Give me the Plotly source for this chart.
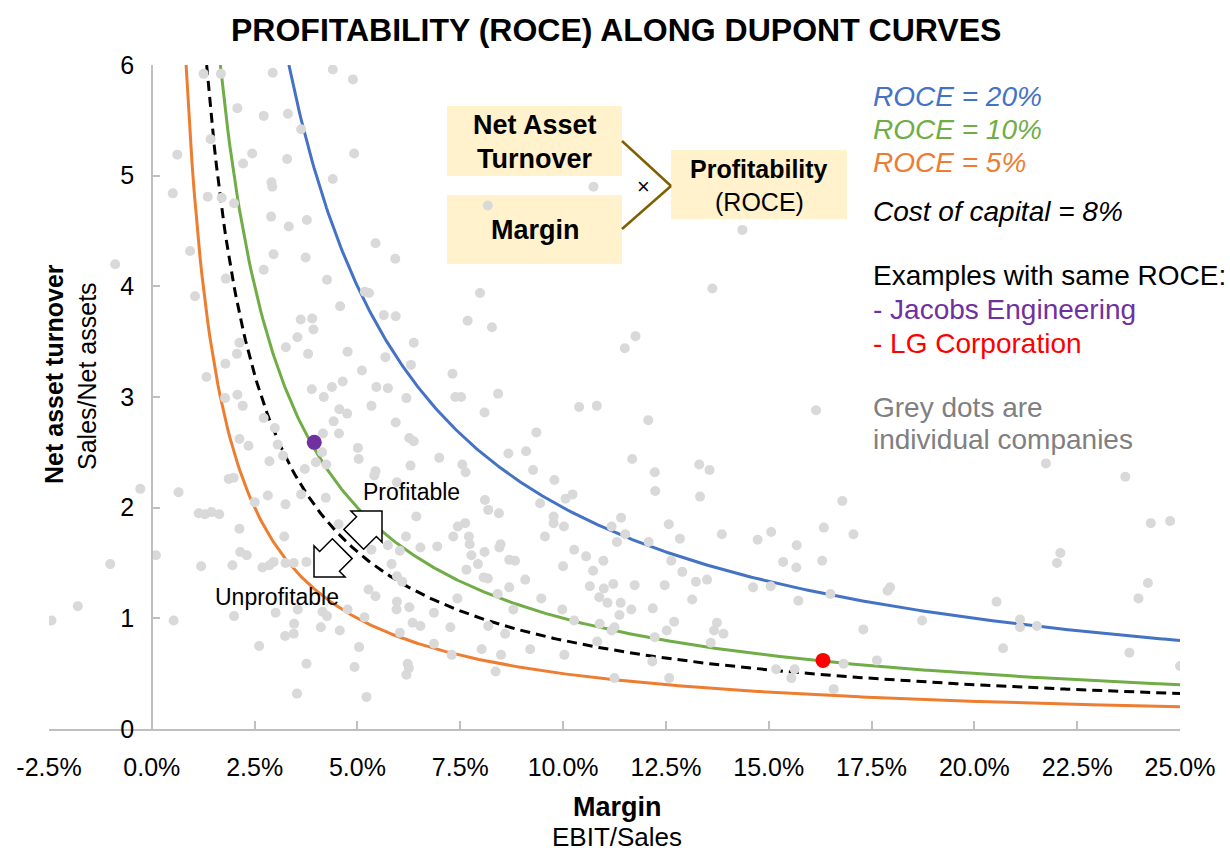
import numpy as np
import plotly.graph_objects as go

# ---------------- data ----------------
# grey dots: individual companies (margin in %, net asset turnover)
company_margin = [
    1.26, 1.68, 2.94, 4.40, 4.89, 2.08, 2.72, 3.31, 3.63, 0.62, 2.44, 2.22, 3.29, 4.92, 4.40, 2.91, 2.93, 0.51, 1.36, 1.70,
    2.00, 1.43, 2.90, 3.33, 3.77, 0.93, 2.96, 3.74, 5.44, 5.92, -0.89, 1.80, 2.72, 4.26, 5.18, 5.28, 1.05, 4.58, 5.64, 5.93,
    3.62, 3.90, 3.93, 3.54, 3.26, 2.13, 2.07, 3.80, 4.76, 5.68, 6.37, 6.30, 1.79, 5.11, 1.33, 3.89, 4.38, 4.64, 5.46, 5.74,
    2.08, 1.78, 4.18, 6.19,
    2.21, 4.56, 4.75, 5.34, 4.42, 5.93, 2.72, 2.99, 4.55, 2.13, 2.35, 3.06, 4.16, 4.14, 5.01, 6.26, 5.03, 3.19, 2.86, 3.99,
    4.24, 3.72, 5.44, 5.41, 1.87, 1.99, 6.29, -0.28, 0.65, 2.50, 2.82, 3.25, 3.63, 4.23, 5.96, 6.43, 1.14, 1.29, 1.45, 1.64,
    2.13, 4.54, 3.22, 6.18, 5.74, 6.03, 5.34, 2.15, 2.31, 0.10, -1.01, 1.20, 1.96, 2.69, 2.86, 2.96, 3.25, 3.45, 3.76, 5.83,
    5.96, 6.09, 5.27, 5.44, 5.96, 5.95, 6.26, -1.80, -2.44, 0.53, 2.00, 3.01, 3.55, 4.15, 4.26, 4.76, 5.17, 3.46, 3.45, 3.24,
    4.11, 4.57, 6.03, 6.34, 2.61, 5.04, 3.76, 4.93, 6.22, 6.19, 6.25, 3.53, 5.22,
    10.74, 8.17, 14.36, 7.98, 13.63, 7.68, 8.27, 11.76, 11.50, 7.31,
    7.38, 7.52, 8.42, 8.09, 10.39, 10.82, 12.07, 16.15, 9.35, 6.37, 8.67, 9.10, 6.99, 7.55, 7.63, 9.27, 11.68, 12.23, 13.31, 13.56,
    12.24, 13.33, 16.79, 9.79, 10.06, 10.23, 9.44, 8.10, 8.18, 8.44, 9.77, 9.77, 10.02, 7.62, 7.44, 7.33, 7.71, 7.73, 6.53, 6.94,
    8.48, 8.45, 9.56, 11.18, 11.41, 11.51, 11.31, 12.08, 12.57, 12.84, 13.86, 14.73, 15.06, 15.68, 16.34, 15.35, 15.67, 16.30, 8.09, 7.77,
    7.93, 7.65, 8.69, 8.83, 8.07, 8.17, 9.08, 10.00, 10.27, 10.56, 10.98, 10.73, 10.65, 10.99, 11.22, 10.88, 11.08, 11.40, 11.74, 12.47,
    12.63, 12.90, 13.23, 13.50, 13.14, 14.62, 15.05, 15.72, 16.50, 11.66, 12.18, 11.37, 11.25, 11.18, 10.89, 10.27, 9.98, 9.47, 8.41, 8.69,
    8.79, 7.43, 6.86, 6.53, 7.26, 8.18, 8.59, 6.86, 8.02, 7.29, 8.49, 9.20, 10.03, 10.83, 12.23, 12.52, 12.70, 13.59, 13.74, 13.67,
    13.90, 12.17, 15.18, 15.63, 15.55, 11.25, 12.58, 16.82, 16.58, 8.36,
    17.06, 17.95, 17.89, 17.30, 18.73, 21.74, 23.67, 24.29, 24.76, 22.09, 22.01, 24.22, 23.99, 20.54, 21.11, 21.11, 21.52, 20.70, 23.77, 25.00,
    17.63,
]
company_turnover = [
    5.92, 5.92, 5.93, 5.96, 5.87, 5.61, 5.54, 5.56, 5.42, 5.19, 5.20, 5.11, 5.15, 5.20, 4.97, 4.94, 4.90, 4.84, 4.81, 4.80,
    4.75, 5.33, 4.63, 4.54, 4.60, 4.32, 4.29, 4.26, 4.39, 4.25, 4.20, 4.07, 4.15, 4.06, 3.95, 3.94, 3.91, 3.82, 3.74, 3.73,
    3.70, 3.71, 3.61, 3.54, 3.45, 3.49, 3.39, 3.39, 3.41, 3.36, 3.49, 3.29, 3.30, 3.24, 3.18, 3.07, 3.09, 3.14, 3.09, 3.08,
    3.02, 2.99, 3.00, 2.99,
    2.92, 2.89, 2.85, 2.92, 2.78, 2.77, 2.81, 2.72, 2.67, 2.62, 2.56, 2.57, 2.67, 2.50, 2.54, 2.63, 2.44, 2.47, 2.42, 2.41,
    2.39, 2.35, 2.33, 2.29, 2.26, 2.27, 2.38, 2.17, 2.14, 2.05, 2.11, 2.03, 2.12, 2.09, 2.23, 1.92, 1.95, 1.94, 1.96, 1.94,
    1.81, 1.85, 1.74, 1.74, 1.66, 1.61, 1.62, 1.60, 1.57, 1.57, 1.49, 1.47, 1.48, 1.46, 1.48, 1.51, 1.50, 1.50, 1.51, 1.49,
    1.38, 1.33, 1.26, 1.20, 1.15, 1.08, 1.10, 1.11, 0.98, 0.98, 1.02, 1.05, 1.08, 1.06, 1.02, 1.08, 1.01, 0.95, 0.86, 0.84,
    0.92, 0.89, 0.87, 0.96, 0.75, 0.74, 0.59, 0.56, 0.59, 0.49, 0.55, 0.32, 0.29,
    4.90, 4.73, 4.51, 3.94, 3.98, 3.69, 3.63, 3.55, 3.44, 3.21,
    3.00, 3.00, 3.03, 2.86, 2.91, 2.92, 2.79, 2.88, 2.68, 2.60, 2.49, 2.51, 2.45, 2.39, 2.32, 2.34, 2.44, 2.32, 2.39, 2.34,
    2.15, 2.10, 2.06, 2.25, 2.08, 2.12, 2.04, 2.07, 1.98, 1.95, 1.92, 1.86, 1.83, 1.86, 1.83, 1.74, 1.74, 1.67, 1.64, 1.65,
    1.67, 1.64, 1.74, 1.83, 1.91, 1.76, 1.69, 1.69, 1.85, 1.72, 1.76, 1.71, 1.78, 1.66, 1.82, 1.51, 1.46, 1.52, 1.60, 1.57,
    1.49, 1.44, 1.53, 1.52, 1.37, 1.36, 1.35, 1.47, 1.62, 1.56, 1.52, 1.43, 1.29, 1.27, 1.31, 1.19, 1.14, 1.14, 1.30, 1.30,
    1.52, 1.42, 1.33, 1.35, 1.17, 1.28, 1.29, 1.16, 1.22, 1.08, 1.09, 1.03, 0.92, 0.89, 0.95, 0.98, 1.08, 1.18, 1.22, 1.28,
    1.08, 1.18, 1.05, 0.93, 0.92, 0.93, 0.86, 0.77, 0.72, 0.67, 0.67, 0.72, 0.67, 0.79, 0.83, 0.89, 0.97, 0.78, 0.96, 0.89,
    0.86, 0.61, 0.54, 0.54, 0.46, 0.46, 0.46, 0.59, 0.36, 0.52,
    1.76, 1.28, 1.25, 0.90, 0.98, 2.40, 2.28, 1.86, 1.88, 1.59, 1.50, 1.32, 1.18, 1.15, 0.99, 0.92, 0.93, 0.73, 0.69, 0.57,
    0.62,
]

# ROCE iso-curves (ROCE = margin x turnover)
roce_levels = [20, 10, 5]
roce_colors = ["#4472C4", "#70AD47", "#ED7D31"]
cost_of_capital = 8

# highlighted examples
example_names = ["Jacobs Engineering", "LG Corporation"]
example_margin = [3.95, 16.32]
example_turnover = [2.59, 0.62]
example_colors = ["#7030A0", "#FF0000"]

x_tick_vals = [-2.5, 0.0, 2.5, 5.0, 7.5, 10.0, 12.5, 15.0, 17.5, 20.0, 22.5, 25.0]
x_tick_text = ["-2.5%", "0.0%", "2.5%", "5.0%", "7.5%", "10.0%", "12.5%", "15.0%", "17.5%", "20.0%", "22.5%", "25.0%"]
y_tick_vals = [0, 1, 2, 3, 4, 5, 6]
X_MIN, X_MAX, Y_MAX = -2.5, 25.0, 6.0

# ---------------- layout geometry ----------------
W, H = 1230, 852
ML, MR, MT, MB = 49, 50, 65, 123
PW, PH = W - ML - MR, H - MT - MB
FONT = "Liberation Sans, Arial, sans-serif"


def px_x(px):
    return (px - ML) / PW


def px_y(py):
    return (H - MB - py) / PH


def curve(level):
    x = np.linspace(level / Y_MAX, X_MAX, 500)
    return x, level / x


fig = go.Figure()

# ROCE curves and the dashed cost-of-capital curve
curve_specs = [(roce_levels[2], roce_colors[2], "solid"),
               (cost_of_capital, "black", "10px,6px"),
               (roce_levels[1], roce_colors[1], "solid"),
               (roce_levels[0], roce_colors[0], "solid")]
for lvl, col, dash in curve_specs:
    cx, cy = curve(lvl)
    fig.add_trace(go.Scatter(x=cx, y=cy, mode="lines", line=dict(color=col, width=3, dash=dash),
                             hoverinfo="skip", showlegend=False))

# grey dots
fig.add_trace(go.Scatter(x=company_margin, y=company_turnover, mode="markers",
                         marker=dict(color="#D9D9D9", size=10), showlegend=False, hoverinfo="x+y"))

# examples
fig.add_trace(go.Scatter(x=example_margin, y=example_turnover, mode="markers", text=example_names,
                         marker=dict(color=example_colors, size=15), showlegend=False))

shapes = []
annotations = []


def ann(text, x, y, size, color="black", xanchor="center", angle=0):
    annotations.append(dict(text=text, x=px_x(x), y=px_y(y), xref="paper", yref="paper",
                            showarrow=False, xanchor=xanchor, yanchor="middle", textangle=angle,
                            font=dict(family=FONT, size=size, color=color)))


# title and axis titles
ann("<b>PROFITABILITY (ROCE) ALONG DUPONT CURVES</b>", 616, 30, 32)
ann("<b>Margin</b>", 617, 807, 27)
ann("EBIT/Sales", 617, 837, 26)
ann("<b>Net asset turnover</b>", 54, 374, 25, angle=-90)
ann("Sales/Net assets", 87, 376, 25, angle=-90)

# DuPont schematic boxes
box_fill = "#FFF2CC"
for x0, y0, x1, y1 in [(447, 106, 622, 176), (447, 195, 622, 264), (671, 150, 847, 219)]:
    shapes.append(dict(type="rect", xref="paper", yref="paper", x0=px_x(x0), x1=px_x(x1),
                       y0=px_y(y1), y1=px_y(y0), fillcolor=box_fill, line=dict(width=0), layer="below"))
for (xa, ya), (xb, yb) in [((622, 141), (671, 186)), ((622, 229), (671, 186))]:
    shapes.append(dict(type="line", xref="paper", yref="paper", x0=px_x(xa), y0=px_y(ya),
                       x1=px_x(xb), y1=px_y(yb), line=dict(color="#7F6000", width=2.5)))
ann("<b>Net Asset</b>", 535, 125, 27)
ann("<b>Turnover</b>", 535, 159, 27)
ann("<b>Margin</b>", 535, 230, 27)
ann("×", 643, 186, 22)
ann("<b>Profitability</b>", 759, 169, 25)
ann("(ROCE)", 759, 202, 25)

# right-hand text
ann("<i>ROCE = 20%</i>", 871, 96, 28, color=roce_colors[0], xanchor="left")
ann("<i>ROCE = 10%</i>", 871, 129, 28, color=roce_colors[1], xanchor="left")
ann("<i>ROCE = 5%</i>", 871, 163, 28, color=roce_colors[2], xanchor="left")
ann("<i>Cost of capital = 8%</i>", 871, 212, 28, xanchor="left")
ann("Examples with same ROCE:", 871, 275, 28, xanchor="left")
ann("- " + example_names[0], 871, 309, 28, color=example_colors[0], xanchor="left")
ann("- " + example_names[1], 871, 343, 28, color=example_colors[1], xanchor="left")
ann("Grey dots are", 871, 407, 28, color="#808080", xanchor="left")
ann("individual companies", 871, 440, 28, color="#808080", xanchor="left")

# profitable / unprofitable labels and block arrows
ann("Profitable", 411, 492, 23)
ann("Unprofitable", 277, 597, 23)


def block_arrow(tip, direction, head=22, head_half=22, shaft_half=14, shaft=18):
    tx, ty = tip
    dx, dy = direction
    n = np.hypot(dx, dy)
    dx, dy = dx / n, dy / n
    nx, ny = -dy, dx
    bx, by = tx - head * dx, ty - head * dy
    pts = [(tx, ty), (bx + head_half * nx, by + head_half * ny), (bx + shaft_half * nx, by + shaft_half * ny),
           (bx + shaft_half * nx - shaft * dx, by + shaft_half * ny - shaft * dy),
           (bx - shaft_half * nx - shaft * dx, by - shaft_half * ny - shaft * dy),
           (bx - shaft_half * nx, by - shaft_half * ny), (bx - head_half * nx, by - head_half * ny)]
    path = "M " + " L ".join(f"{px_x(px):.5f},{px_y(py):.5f}" for px, py in pts) + " Z"
    return dict(type="path", xref="paper", yref="paper", path=path, fillcolor="white",
                line=dict(color="black", width=1.5), layer="above")


shapes.append(block_arrow((382, 511), (1, -1)))
shapes.append(block_arrow((314, 577), (-1, 1)))

fig.update_layout(
    width=W, height=H,
    margin=dict(l=ML, r=MR, t=MT, b=MB),
    paper_bgcolor="white", plot_bgcolor="white",
    showlegend=False,
    shapes=shapes, annotations=annotations,
    font=dict(family=FONT, color="black"),
    xaxis=dict(range=[X_MIN, X_MAX], tickvals=x_tick_vals, ticktext=x_tick_text,
               ticks="inside", ticklen=8, tickcolor="#BFBFBF", tickwidth=1.5,
               showline=True, linecolor="#BFBFBF", linewidth=1.5,
               showgrid=False, zeroline=False, tickfont=dict(size=25, family=FONT),
               ticklabelstandoff=15),
    yaxis=dict(range=[0, Y_MAX], tickvals=y_tick_vals, anchor="free",
               position=(0 - X_MIN) / (X_MAX - X_MIN),
               ticks="inside", ticklen=7, tickcolor="#BFBFBF", tickwidth=1.5,
               showline=True, linecolor="#BFBFBF", linewidth=1.5,
               showgrid=False, zeroline=False, tickfont=dict(size=25, family=FONT),
               ticklabelstandoff=12),
)

fig.write_html("out.html", config={"displayModeBar": False},
               post_script="document.body.style.margin='0';")
